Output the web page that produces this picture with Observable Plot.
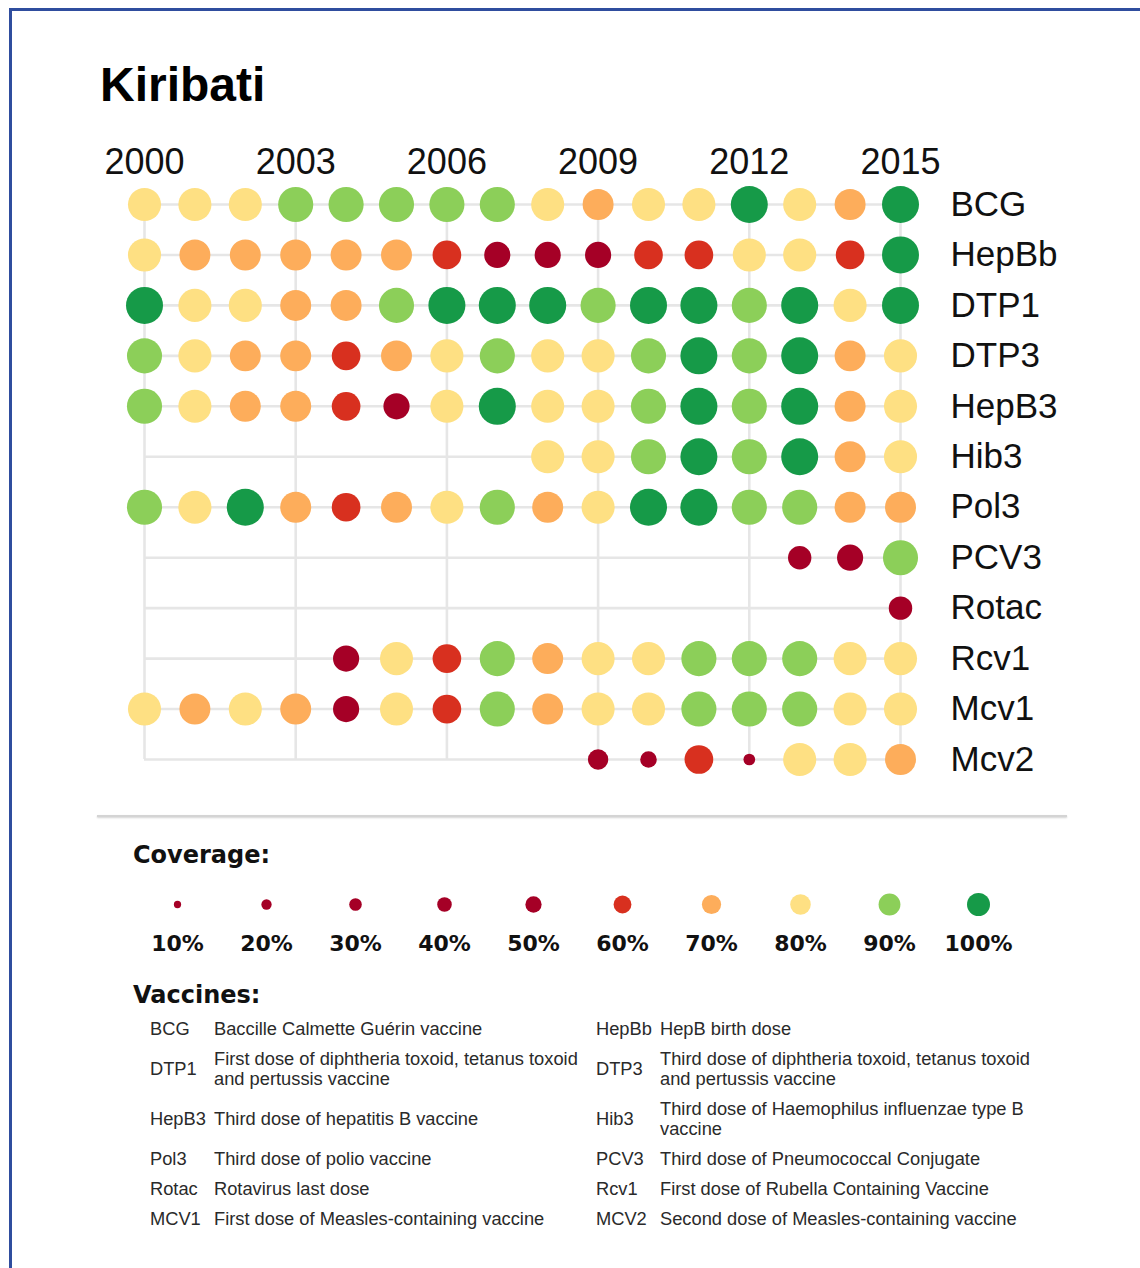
<!DOCTYPE html>
<html>
<head>
<meta charset="utf-8">
<script src="https://cdn.jsdelivr.net/npm/d3@7"></script>
<script src="https://cdn.jsdelivr.net/npm/@observablehq/plot@0.6"></script>
<style>
  html, body { margin: 0; padding: 0; background: #fff; }
  #page { position: relative; width: 1140px; height: 1268px; overflow: hidden; background: #fff; font-family: "Liberation Sans", Arial, sans-serif; }
  .abs { position: absolute; }
  #frame { left: 9px; top: 8px; width: 1200px; height: 1300px; border-top: 3px solid #2f4d9e; border-left: 3px solid #2f4d9e; }
  #title { left: 100px; top: 61px; font-size: 48px; font-weight: bold; line-height: 48px; color: #000; }
  #sep { left: 97px; top: 815px; width: 970px; height: 2px; background: #d4d4d4; box-shadow: 0 1px 2px rgba(0,0,0,0.18); }
  .head { font-family: "DejaVu Sans", Verdana, sans-serif; font-weight: bold; font-size: 24px; line-height: 24px; color: #111; }
  #covHead { left: 133px; top: 843px; }
  #vacHead { left: 133px; top: 983px; }
  #vacTable { left: 150px; top: 1014px; border-collapse: collapse; font-size: 18.3px; line-height: 20px; color: #2a2a2a; }
  #vacTable td { padding: 5px 0; vertical-align: middle; white-space: nowrap; }
  #vacTable td.code { width: 64px; }
  #vacTable td.name { width: 382px; }
</style>
</head>
<body>
<div id="page">
  <div id="frame" class="abs"></div>
  <div id="title" class="abs">Kiribati</div>
  <div id="chart" class="abs" style="left:0;top:0"></div>
  <div id="sep" class="abs"></div>
  <div id="covHead" class="abs head">Coverage:</div>
  <div id="legend" class="abs" style="left:0;top:880px"></div>
  <div id="vacHead" class="abs head">Vaccines:</div>
  <table id="vacTable" class="abs"></table>
</div>
<script>
// ---- Data ----
const years = [2000, 2001, 2002, 2003, 2004, 2005, 2006, 2007, 2008, 2009, 2010, 2011, 2012, 2013, 2014, 2015];
const yearTicks = [2000, 2003, 2006, 2009, 2012, 2015];
const vaccines = ["BCG", "HepBb", "DTP1", "DTP3", "HepB3", "Hib3", "Pol3", "PCV3", "Rotac", "Rcv1", "Mcv1", "Mcv2"];

// Coverage (%) per year, 2000..2015 (null = no data)
const BCG   = [80, 80, 80, 90, 90, 90, 90, 90, 80, 70, 80, 80, 100, 80, 70, 100];
const HepBb = [80, 70, 70, 70, 70, 70, 60, 50, 50, 50, 60, 60, 80, 80, 60, 100];
const DTP1  = [100, 80, 80, 70, 70, 90, 100, 100, 100, 90, 100, 100, 90, 100, 80, 100];
const DTP3  = [90, 80, 70, 70, 60, 70, 80, 90, 80, 80, 90, 100, 90, 100, 70, 80];
const HepB3 = [90, 80, 70, 70, 60, 50, 80, 100, 80, 80, 90, 100, 90, 100, 70, 80];
const Hib3  = [null, null, null, null, null, null, null, null, 80, 80, 90, 100, 90, 100, 70, 80];
const Pol3  = [90, 80, 100, 70, 60, 70, 80, 90, 70, 80, 100, 100, 90, 90, 70, 70];
const PCV3  = [null, null, null, null, null, null, null, null, null, null, null, null, null, 40, 50, 90];
const Rotac = [null, null, null, null, null, null, null, null, null, null, null, null, null, null, null, 40];
const Rcv1  = [null, null, null, null, 50, 80, 60, 90, 70, 80, 80, 90, 90, 90, 80, 80];
const Mcv1  = [80, 70, 80, 70, 50, 80, 60, 90, 70, 80, 80, 90, 90, 90, 80, 80];
const Mcv2  = [null, null, null, null, null, null, null, null, null, 30, 20, 60, 10, 80, 80, 70];

// Coverage legend levels and palette
const levels = [10, 20, 30, 40, 50, 60, 70, 80, 90, 100];
const levelLabels = ["10%", "20%", "30%", "40%", "50%", "60%", "70%", "80%", "90%", "100%"];
const palette = ["#a50026", "#a50026", "#a50026", "#a50026", "#a50026", "#d8301f", "#fdad5b", "#fee083", "#8ccf59", "#169a48"];

// Vaccine descriptions
const vaccineCodes = ["BCG", "HepBb", "DTP1", "DTP3", "HepB3", "Hib3", "Pol3", "PCV3", "Rotac", "Rcv1", "MCV1", "MCV2"];
const vaccineNames = [
  "Baccille Calmette Guérin vaccine",
  "HepB birth dose",
  "First dose of diphtheria toxoid, tetanus toxoid\nand pertussis vaccine",
  "Third dose of diphtheria toxoid, tetanus toxoid\nand pertussis vaccine",
  "Third dose of hepatitis B vaccine",
  "Third dose of Haemophilus influenzae type B\nvaccine",
  "Third dose of polio vaccine",
  "Third dose of Pneumococcal Conjugate",
  "Rotavirus last dose",
  "First dose of Rubella Containing Vaccine",
  "First dose of Measles-containing vaccine",
  "Second dose of Measles-containing vaccine"
];

// ---- Build table ----
const series = {BCG, HepBb, DTP1, DTP3, HepB3, Hib3, Pol3, PCV3, Rotac, Rcv1, Mcv1, Mcv2};
const data = [];
for (const v of vaccines) {
  series[v].forEach((val, i) => { if (val != null) data.push({vaccine: v, year: years[i], value: val}); });
}

const gridColor = "#e6e6e6";

const chart = Plot.plot({
  width: 1140,
  height: 800,
  marginLeft: 144,
  marginRight: 240,
  marginTop: 204,
  marginBottom: 41,
  style: {fontFamily: "'Liberation Sans', Arial, sans-serif", background: "transparent", color: "#111"},
  x: {domain: [2000, 2015], label: null},
  y: {type: "point", domain: vaccines, padding: 0, round: false, label: null},
  r: {type: "sqrt", domain: [0, 100], range: [0, 18.5]},
  color: {type: "ordinal", domain: levels, range: palette},
  marks: [
    Plot.ruleY(vaccines, {y: d => d, x1: () => 2000, x2: () => 2015, stroke: gridColor, strokeWidth: 2.6}),
    Plot.ruleX(yearTicks, {x: d => d, y1: () => vaccines[0], y2: () => vaccines[vaccines.length - 1], stroke: gridColor, strokeWidth: 2.6}),
    Plot.dot(data, {x: "year", y: "vaccine", r: "value", fill: "value", stroke: null}),
    Plot.axisX(yearTicks, {anchor: "top", tickSize: 0, tickPadding: 31, fontSize: 36, tickFormat: d => String(d), fill: "#111", label: null}),
    Plot.axisY({anchor: "right", tickSize: 0, tickPadding: 50, fontSize: 35, textAnchor: "start", fill: "#111", label: null})
  ]
});
document.getElementById("chart").appendChild(chart);

const legend = Plot.plot({
  width: 1140,
  height: 90,
  marginLeft: 174,
  marginRight: 159,
  marginTop: 0,
  marginBottom: 0,
  style: {fontFamily: "'DejaVu Sans', Verdana, sans-serif", background: "transparent"},
  x: {type: "point", domain: levels, padding: 0, axis: null},
  r: {type: "sqrt", domain: [0, 100], range: [0, 11.5]},
  color: {type: "ordinal", domain: levels, range: palette},
  marks: [
    Plot.dot(levels, {x: d => d, r: d => d, fill: d => d, frameAnchor: "top", dy: 24, stroke: null}),
    Plot.text(levels, {x: d => d, text: (d, i) => levelLabels[i], frameAnchor: "top", dy: 55, fontSize: 22, fontWeight: "bold", fill: "#111"})
  ]
});
document.getElementById("legend").appendChild(legend);

// Vaccine description table (two pairs per row)
const table = document.getElementById("vacTable");
for (let i = 0; i < vaccineCodes.length; i += 2) {
  const tr = document.createElement("tr");
  for (let j = i; j < i + 2; j++) {
    const c = document.createElement("td");
    c.className = "code";
    c.textContent = vaccineCodes[j];
    const n = document.createElement("td");
    n.className = "name";
    vaccineNames[j].split("\n").forEach((line, k) => {
      if (k) n.appendChild(document.createElement("br"));
      n.appendChild(document.createTextNode(line));
    });
    tr.appendChild(c);
    tr.appendChild(n);
  }
  table.appendChild(tr);
}
</script>
</body>
</html>
